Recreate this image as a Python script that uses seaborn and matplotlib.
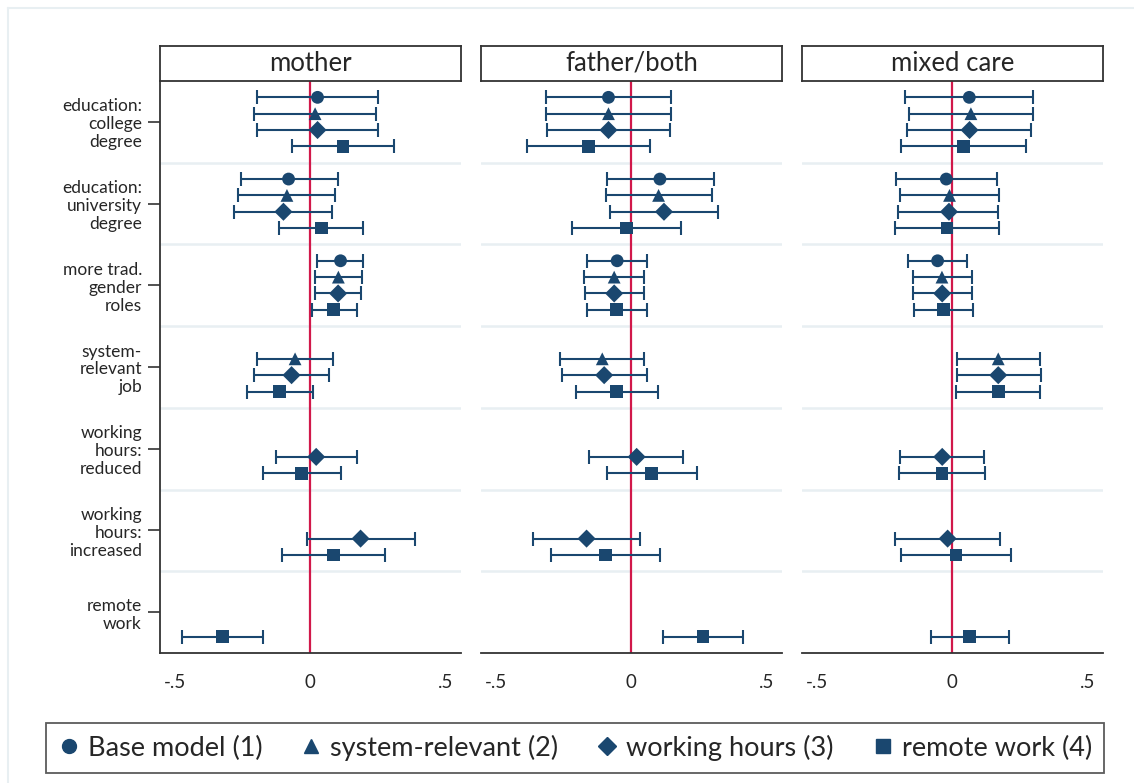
import numpy as np
import pandas as pd
import matplotlib
matplotlib.use("Agg")
import matplotlib.pyplot as plt
from matplotlib.lines import Line2D
import seaborn as sns

# categories (rows of each panel, top to bottom)
groups = ["education:\ncollege\ndegree", "education:\nuniversity\ndegree",
          "more trad.\ngender\nroles", "system-\nrelevant\njob",
          "working\nhours:\nreduced", "working\nhours:\nincreased",
          "remote\nwork"]
models = ["Base model (1)", "system-relevant (2)", "working hours (3)", "remote work (4)"]
panels = ["mother", "father/both", "mixed care"]
xticks = [-0.5, 0, 0.5]
xticklabels = ["-.5", "0", ".5"]

nan = np.nan
# coefficients: rows = groups, columns = models
mother_coef = [[0.027, 0.018, 0.027, 0.121],
               [-0.080, -0.086, -0.099, 0.041],
               [0.112, 0.104, 0.103, 0.087],
               [nan, -0.056, -0.069, -0.113],
               [nan, nan, 0.022, -0.032],
               [nan, nan, 0.186, 0.087],
               [nan, nan, nan, -0.323]]
mother_lo = [[-0.196, -0.206, -0.196, -0.067],
             [-0.257, -0.265, -0.282, -0.114],
             [0.026, 0.017, 0.017, 0.005],
             [nan, -0.195, -0.208, -0.233],
             [nan, nan, -0.127, -0.175],
             [nan, nan, -0.013, -0.104],
             [nan, nan, nan, -0.472]]
mother_hi = [[0.251, 0.243, 0.251, 0.311],
             [0.101, 0.093, 0.080, 0.194],
             [0.196, 0.190, 0.188, 0.172],
             [nan, 0.083, 0.069, 0.011],
             [nan, nan, 0.173, 0.112],
             [nan, nan, 0.387, 0.275],
             [nan, nan, nan, -0.175]]

father_coef = [[-0.084, -0.084, -0.084, -0.159],
               [0.106, 0.101, 0.121, -0.017],
               [-0.052, -0.063, -0.063, -0.053],
               [nan, -0.107, -0.100, -0.053],
               [nan, nan, 0.020, 0.075],
               [nan, nan, -0.165, -0.096],
               [nan, nan, nan, 0.265]]
father_lo = [[-0.314, -0.314, -0.310, -0.386],
             [-0.091, -0.095, -0.079, -0.219],
             [-0.163, -0.174, -0.172, -0.163],
             [nan, -0.264, -0.254, -0.205],
             [nan, nan, -0.156, -0.091],
             [nan, nan, -0.362, -0.296],
             [nan, nan, nan, 0.117]]
father_hi = [[0.147, 0.147, 0.142, 0.068],
             [0.305, 0.300, 0.319, 0.185],
             [0.059, 0.047, 0.047, 0.058],
             [nan, 0.047, 0.057, 0.099],
             [nan, nan, 0.191, 0.242],
             [nan, nan, 0.033, 0.106],
             [nan, nan, nan, 0.414]]

mixed_coef = [[0.063, 0.069, 0.064, 0.042],
              [-0.022, -0.010, -0.012, -0.019],
              [-0.054, -0.038, -0.037, -0.033],
              [nan, 0.170, 0.170, 0.170],
              [nan, nan, -0.037, -0.038],
              [nan, nan, -0.017, 0.014],
              [nan, nan, nan, 0.065]]
mixed_lo = [[-0.173, -0.158, -0.167, -0.190],
            [-0.209, -0.193, -0.201, -0.211],
            [-0.163, -0.144, -0.144, -0.142],
            [nan, 0.016, 0.017, 0.015],
            [nan, nan, -0.192, -0.196],
            [nan, nan, -0.212, -0.190],
            [nan, nan, nan, -0.078]]
mixed_hi = [[0.298, 0.298, 0.291, 0.274],
            [0.164, 0.172, 0.170, 0.174],
            [0.054, 0.073, 0.073, 0.076],
            [nan, 0.323, 0.327, 0.324],
            [nan, nan, 0.118, 0.121],
            [nan, nan, 0.178, 0.216],
            [nan, nan, nan, 0.208]]

# long table
rows = []
for pname, c, lo, hi in zip(panels, [mother_coef, father_coef, mixed_coef],
                            [mother_lo, father_lo, mixed_lo], [mother_hi, father_hi, mixed_hi]):
    for gi, g in enumerate(groups):
        for mi, m in enumerate(models):
            rows.append(dict(panel=pname, group=gi, model=m, mi=mi,
                             coef=c[gi][mi], lo=lo[gi][mi], hi=hi[gi][mi]))
df = pd.DataFrame(rows).dropna()

sns.set_style("white")
plt.rcParams["font.family"] = ["Lato", "DejaVu Sans"]

navy = "#1a476f"
red = "#d1184a"
sep = "#e8eff2"
markers = ["o", "^", "D", "s"]
msizes = [8, 8.5, 7.5, 8]
offsets = [-0.3, -0.1, 0.1, 0.3]

fig = plt.figure(figsize=(11.34, 7.83), dpi=100)
W, H = 1134, 783
lefts = [160, 481, 802]
pw = 301
top, bottom = 81, 653

# faint outer frame
fig.add_artist(Line2D([8 / W, 1], [1 - 8 / H, 1 - 8 / H], color=sep, lw=1.5))
fig.add_artist(Line2D([8 / W, 8 / W], [0, 1 - 8 / H], color=sep, lw=1.5))

for pi, pname in enumerate(panels):
    ax = fig.add_axes([lefts[pi] / W, 1 - bottom / H, pw / W, (bottom - top) / H])
    sub = df[df.panel == pname]
    for k in np.arange(0.5, len(groups) - 1, 1.0):
        ax.axhline(k, color=sep, lw=1.8, zorder=0)
    ax.axvline(0, color=red, lw=1.6, zorder=1)
    for mi, m in enumerate(models):
        s = sub[sub.mi == mi]
        y = s.group + offsets[mi]
        ax.errorbar(s.coef, y, xerr=[s.coef - s.lo, s.hi - s.coef], fmt="none",
                    ecolor=navy, elinewidth=1.5, capsize=5, capthick=1.5, zorder=2)
    sns.scatterplot(data=sub, x="coef", y=sub.group + sub.mi.map(lambda i: offsets[i]),
                    style="model", markers=dict(zip(models, markers)), color=navy,
                    s=85, edgecolor=navy, linewidth=0, legend=False, ax=ax, zorder=3)
    ax.set_xlim(-0.555, 0.557)
    ax.set_ylim(len(groups) - 0.5, -0.5)
    ax.set_xticks(xticks)
    ax.set_xticklabels(xticklabels, fontsize=13.5)
    ax.set_xlabel("")
    ax.set_ylabel("")
    ax.tick_params(axis="x", length=9, width=1.2, color="#333333", pad=6)
    for side in ["top", "right"]:
        ax.spines[side].set_visible(False)
    ax.spines["bottom"].set_color("#333333")
    ax.spines["bottom"].set_linewidth(1.3)
    if pi == 0:
        ax.set_yticks(range(len(groups)))
        ax.set_yticklabels(groups, fontsize=12.5, linespacing=1.15)
        ax.tick_params(axis="y", length=9, width=1.2, color="#333333", pad=4, left=True)
        ax.spines["left"].set_color("#333333")
        ax.spines["left"].set_linewidth(1.3)
    else:
        ax.set_yticks([])
        ax.spines["left"].set_visible(False)

    # strip header
    hx = fig.add_axes([lefts[pi] / W, 1 - top / H, pw / W, 35 / H])
    hx.set_xticks([])
    hx.set_yticks([])
    for sp in hx.spines.values():
        sp.set_visible(True)
        sp.set_color("#333333")
        sp.set_linewidth(1.3)
    hx.text(0.5, 0.5, pname, ha="center", va="center", fontsize=18.5, transform=hx.transAxes)

handles = [Line2D([], [], marker=mk, color=navy, linestyle="none", markersize=ms + 2)
           for mk, ms in zip(markers, msizes)]
leg = fig.legend(handles, models, loc="lower left", ncol=4, mode="expand",
                 bbox_to_anchor=(46 / W, 1 - 773 / H, (1104 - 46) / W, 60 / H),
                 fontsize=19.5, frameon=True, fancybox=False, handletextpad=0.3,
                 borderpad=0.45, handlelength=0.8, borderaxespad=0)
leg.get_frame().set_edgecolor("#333333")
leg.get_frame().set_linewidth(1.3)

fig.savefig("out.png", dpi=100, facecolor="white")
